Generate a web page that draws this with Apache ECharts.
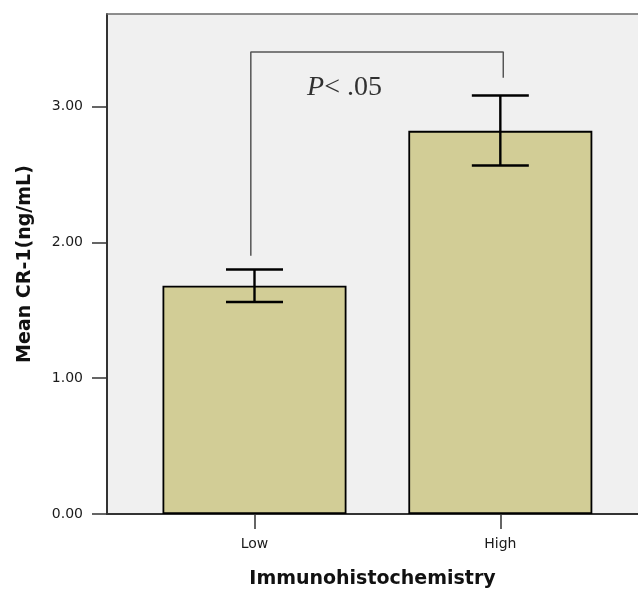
<!DOCTYPE html>
<html>
<head>
<meta charset="utf-8">
<script src="https://cdn.jsdelivr.net/npm/echarts@6/dist/echarts.min.js"></script>
<style>html,body{margin:0;padding:0;background:#fff;}#c{width:638px;height:590px;}</style>
</head>
<body>
<div id="c"></div>
<script>
// ---- data ----
const categories = ['Low', 'High'];
const categoryPos = [1, 2];
const means = [1.68, 2.82];
const ciLower = [1.56, 2.565];
const ciUpper = [1.80, 3.08];
const yTicks = [0, 1, 2, 3];
const bracketX = [0.985, 0.985, 2.012, 2.012];
const bracketY = [1.90, 3.40, 3.40, 3.21];
const pLabelPos = [1.366, 3.14];
const pLabelText = ['P', '< .05'];

const chart = echarts.init(document.getElementById('c'), null, {renderer: 'canvas'});
const tickFont = 'DejaVu Sans';

const option = {
  animation: false,
  backgroundColor: '#ffffff',
  grid: {
    left: 107, top: 14, right: 0, bottom: 76,
    outerBoundsMode: 'none',
    containLabel: false,
    show: true, backgroundColor: '#F0F0F0', borderWidth: 0
  },
  xAxis: [{
    type: 'value',
    min: 0.4, max: 2.56,
    position: 'bottom',
    name: 'Immunohistochemistry',
    nameLocation: 'middle',
    nameGap: 56,
    nameTextStyle: {fontFamily: tickFont, fontWeight: 'bold', fontSize: 19, color: '#111'},
    axisLine: {show: true, onZero: false, lineStyle: {color: '#333', width: 2}},
    axisTick: {show: true, inside: false, length: 15, customValues: categoryPos, lineStyle: {color: '#333', width: 1.5}},
    axisLabel: {
      show: true, margin: 23, customValues: categoryPos,
      fontFamily: tickFont, fontSize: 14, color: '#1a1a1a',
      formatter: v => categories[categoryPos.indexOf(Math.round(v))] || ''
    },
    splitLine: {show: false}
  }, {
    type: 'value',
    min: 0.4, max: 2.56,
    position: 'top',
    axisLine: {show: true, onZero: false, lineStyle: {color: '#6a6a6a', width: 1.5}},
    axisTick: {show: false}, axisLabel: {show: false}, splitLine: {show: false}
  }],
  yAxis: {
    type: 'value',
    min: 0, max: 3.68, interval: 1,
    name: 'Mean CR-1(ng/mL)',
    nameLocation: 'middle',
    nameGap: 72,
    nameRotate: 90,
    nameTextStyle: {fontFamily: tickFont, fontWeight: 'bold', fontSize: 19, color: '#111'},
    axisLine: {show: true, lineStyle: {color: '#333', width: 2}},
    axisTick: {show: true, inside: false, length: 15, customValues: yTicks, lineStyle: {color: '#333', width: 1.5}},
    axisLabel: {
      show: true, margin: 24, fontFamily: tickFont, fontSize: 14, color: '#1a1a1a',
      customValues: yTicks,
      formatter: v => v.toFixed(2)
    },
    splitLine: {show: false}
  },
  series: [{
    type: 'bar',
    xAxisIndex: 0,
    data: categoryPos.map((x, i) => [x, means[i]]),
    barWidth: 184,
    itemStyle: {color: '#D2CD96', borderColor: '#000', borderWidth: 1.8}
  }, {
    type: 'custom',
    xAxisIndex: 0,
    data: categoryPos.map((x, i) => [x, ciLower[i], ciUpper[i]]),
    renderItem: function (params, api) {
      const lo = api.coord([api.value(0), api.value(1)]);
      const hi = api.coord([api.value(0), api.value(2)]);
      const hw = 28.5;
      const st = {stroke: '#000', lineWidth: 2.4};
      return {
        type: 'group',
        children: [
          {type: 'line', shape: {x1: lo[0], y1: lo[1], x2: hi[0], y2: hi[1]}, style: st},
          {type: 'line', shape: {x1: lo[0] - hw, y1: lo[1], x2: lo[0] + hw, y2: lo[1]}, style: st},
          {type: 'line', shape: {x1: hi[0] - hw, y1: hi[1], x2: hi[0] + hw, y2: hi[1]}, style: st}
        ]
      };
    },
    z: 5
  }, {
    type: 'line',
    xAxisIndex: 0,
    data: bracketX.map((x, i) => [x, bracketY[i]]),
    symbol: 'none',
    lineStyle: {color: '#555', width: 1.5},
    z: 4
  }, {
    type: 'scatter',
    xAxisIndex: 0,
    data: [pLabelPos],
    symbolSize: 0,
    label: {
      show: true, position: 'inside',
      formatter: '{p|' + pLabelText[0] + '}{t|' + pLabelText[1] + '}',
      rich: {
        p: {fontFamily: 'Liberation Serif', fontStyle: 'italic', fontSize: 28, color: '#000'},
        t: {fontFamily: 'Liberation Serif', fontSize: 28, color: '#000'}
      }
    }
  }]
};
chart.setOption(option);
</script>
</body>
</html>
